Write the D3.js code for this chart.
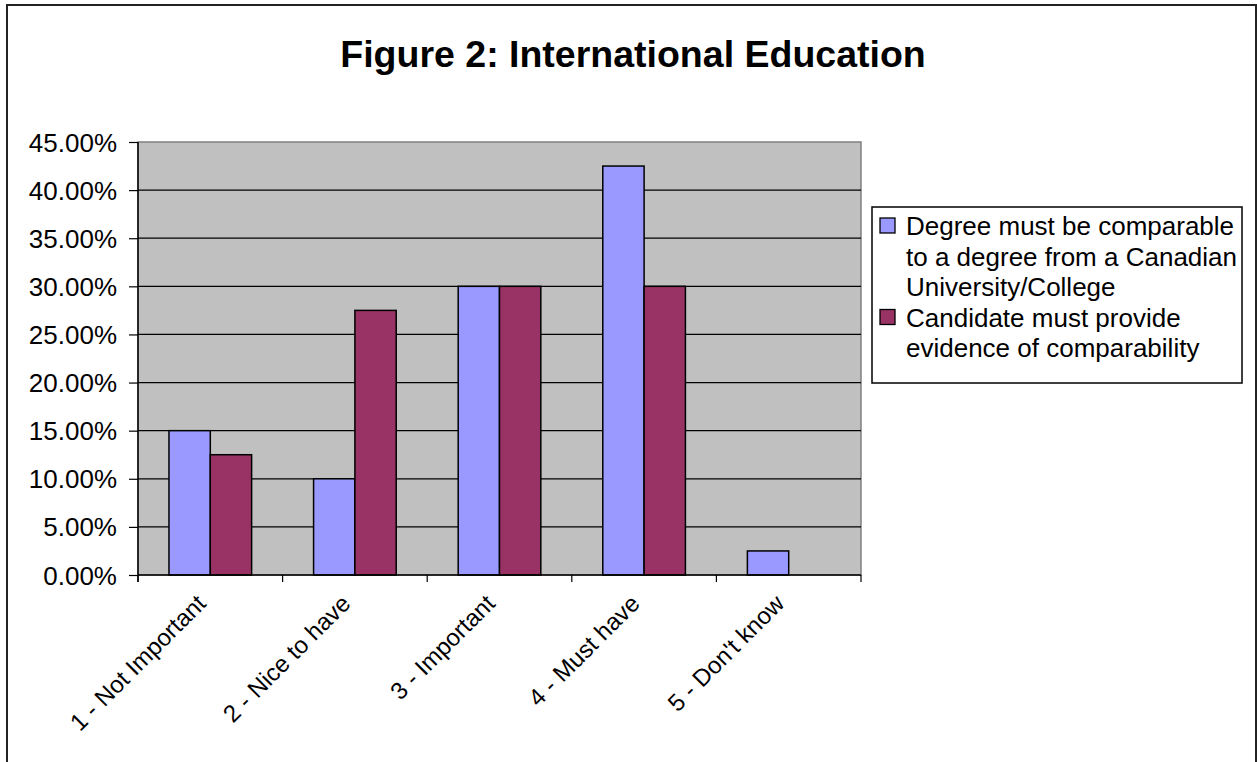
<!DOCTYPE html>
<html>
<head>
<meta charset="utf-8">
<script src="https://cdn.jsdelivr.net/npm/d3@7"></script>
<style>
  html, body { margin: 0; padding: 0; background: #ffffff; }
  svg { display: block; font-family: "Liberation Sans", Arial, sans-serif; }
</style>
</head>
<body>
<svg id="chart" width="1257" height="762"></svg>
<script>
// Survey responses: share of respondents by importance rating
const categories = ["1 - Not Important", "2 - Nice to have", "3 - Important", "4 - Must have", "5 - Don't know"];
const seriesNames = [
  "Degree must be comparable to a degree from a Canadian University/College",
  "Candidate must provide evidence of comparability"
];
const degreeComparable = [0.15, 0.10, 0.30, 0.425, 0.025];
const evidenceProvided = [0.125, 0.275, 0.30, 0.30, 0];
const yTicks = [0, 0.05, 0.10, 0.15, 0.20, 0.25, 0.30, 0.35, 0.40, 0.45];
const seriesColors = ["#9999ff", "#993366"];
const titleText = "Figure 2: International Education";

const series = [degreeComparable, evidenceProvided];
const svg = d3.select("#chart");

// Outer chart frame
svg.append("rect")
  .attr("x", 7).attr("y", 5)
  .attr("width", 1249).attr("height", 800)
  .attr("fill", "#ffffff").attr("stroke", "#222").attr("stroke-width", 2);

// Title
svg.append("text")
  .attr("x", 633).attr("y", 67)
  .attr("text-anchor", "middle")
  .attr("font-size", 37.5).attr("font-weight", "bold")
  .text(titleText);

const plot = { left: 138, right: 861, top: 142, bottom: 575 };

const x0 = d3.scaleBand().domain(categories)
  .range([plot.left, plot.right]).paddingInner(0).paddingOuter(0);
const groupWidth = x0.bandwidth() * 2 / 3.5;
const x1 = d3.scaleBand().domain(d3.range(series.length)).range([0, groupWidth]);
const y = d3.scaleLinear().domain([0, 0.45]).range([plot.bottom, plot.top]);

// Plot background
svg.append("rect")
  .attr("x", plot.left).attr("y", plot.top)
  .attr("width", plot.right - plot.left).attr("height", plot.bottom - plot.top)
  .attr("fill", "#c0c0c0").attr("stroke", "#808080").attr("stroke-width", 1.5);

// Horizontal gridlines
svg.append("g").selectAll("line")
  .data(yTicks.filter(t => t > 0 && t < 0.45))
  .join("line")
  .attr("x1", plot.left).attr("x2", plot.right)
  .attr("y1", d => y(d)).attr("y2", d => y(d))
  .attr("stroke", "#000").attr("stroke-width", 1.2);

// Bars
const groups = svg.append("g").selectAll("g")
  .data(categories)
  .join("g")
  .attr("transform", d => `translate(${x0(d) + (x0.bandwidth() - groupWidth) / 2},0)`);

groups.selectAll("rect")
  .data((d, i) => series.map((s, k) => ({ k, v: s[i] })).filter(e => e.v > 0))
  .join("rect")
  .attr("x", d => x1(d.k))
  .attr("y", d => y(d.v))
  .attr("width", x1.bandwidth())
  .attr("height", d => y(0) - y(d.v))
  .attr("fill", d => seriesColors[d.k])
  .attr("stroke", "#000").attr("stroke-width", 1.5);

// Y axis
const yAxis = d3.axisLeft(y).tickValues(yTicks).tickSize(9).tickPadding(12)
  .tickFormat(d => (d * 100).toFixed(2) + "%");
const gy = svg.append("g").attr("transform", `translate(${plot.left},0)`).call(yAxis);
gy.select(".domain").attr("stroke", "#000").attr("stroke-width", 1.5)
  .attr("d", `M0,${plot.top}V${plot.bottom + 7}`);
gy.selectAll(".tick line").attr("stroke", "#000").attr("stroke-width", 1.2);
gy.selectAll(".tick text").attr("font-size", 26).attr("fill", "#000")
  .attr("font-family", "'Liberation Sans', Arial, sans-serif").attr("dy", "0.35em");

// X axis with ticks at category boundaries
const boundaries = categories.map(c => x0(c)).concat([plot.right]);
svg.append("line")
  .attr("x1", plot.left).attr("x2", plot.right)
  .attr("y1", plot.bottom).attr("y2", plot.bottom)
  .attr("stroke", "#000").attr("stroke-width", 1.5);
svg.append("g").selectAll("line")
  .data(boundaries)
  .join("line")
  .attr("x1", d => d).attr("x2", d => d)
  .attr("y1", plot.bottom).attr("y2", plot.bottom + 7)
  .attr("stroke", "#000").attr("stroke-width", 1.2);

// Rotated category labels
svg.append("g").selectAll("text")
  .data(categories)
  .join("text")
  .attr("transform", d => `translate(${x0(d) + x0.bandwidth() / 2 - 3},${plot.bottom + 30}) rotate(-45)`)
  .attr("text-anchor", "end")
  .attr("font-size", 24)
  .text(d => d);

// Legend
const legend = { x: 872, y: 207, w: 370, h: 176, lineH: 30.5, wrap: 345, fontSize: 26 };
svg.append("rect")
  .attr("x", legend.x).attr("y", legend.y)
  .attr("width", legend.w).attr("height", legend.h)
  .attr("fill", "#ffffff").attr("stroke", "#000").attr("stroke-width", 1.5);

let baseline = 235;
seriesNames.forEach((name, k) => {
  svg.append("rect")
    .attr("x", 880).attr("y", baseline - 17)
    .attr("width", 15).attr("height", 15)
    .attr("fill", seriesColors[k]).attr("stroke", "#000").attr("stroke-width", 1.3);
  const words = name.split(" ");
  let line = "";
  const lines = [];
  const probe = svg.append("text").attr("font-size", legend.fontSize).attr("visibility", "hidden");
  words.forEach(w => {
    const test = line ? line + " " + w : w;
    probe.text(test);
    if (probe.node().getComputedTextLength() > legend.wrap && line) {
      lines.push(line);
      line = w;
    } else {
      line = test;
    }
  });
  lines.push(line);
  probe.remove();
  lines.forEach((ln, j) => {
    svg.append("text")
      .attr("x", 906).attr("y", baseline + j * legend.lineH)
      .attr("font-size", legend.fontSize)
      .text(ln);
  });
  baseline += lines.length * legend.lineH;
});
</script>
</body>
</html>
